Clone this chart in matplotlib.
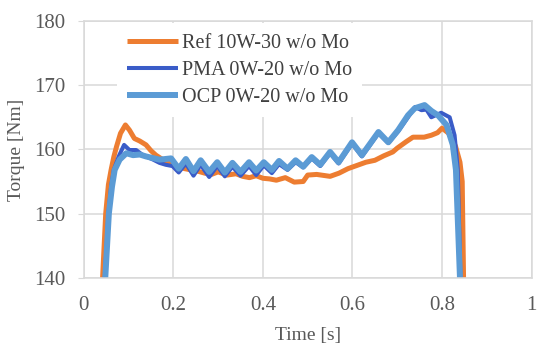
import matplotlib
matplotlib.use("Agg")
import matplotlib.pyplot as plt

# ---- data ----
t_ref = [0.042, 0.049, 0.055, 0.061, 0.067, 0.073, 0.082, 0.093, 0.102, 0.113, 0.125, 0.139, 0.150,
         0.161, 0.172, 0.184, 0.198, 0.213, 0.225, 0.240, 0.255, 0.270, 0.285, 0.300, 0.320,
         0.340, 0.355, 0.370, 0.385, 0.400, 0.415, 0.430, 0.450, 0.470, 0.490, 0.500, 0.520,
         0.550, 0.570, 0.590, 0.610, 0.630, 0.650, 0.670, 0.690, 0.700, 0.720, 0.735, 0.760,
         0.776, 0.790, 0.800, 0.815, 0.830, 0.840, 0.845, 0.848]
y_ref = [140.0, 150.0, 154.5, 156.8, 158.8, 160.4, 162.5, 163.8, 163.0, 161.7, 161.3, 160.7, 159.8,
         159.1, 158.6, 158.1, 157.6, 157.3, 157.0, 156.8, 156.6, 156.3, 156.1, 156.5, 156.0,
         156.2, 155.8, 155.6, 155.9, 155.5, 155.4, 155.2, 155.6, 154.9, 155.0, 156.0, 156.1,
         155.8, 156.3, 157.0, 157.5, 158.0, 158.3, 159.0, 159.6, 160.2, 161.2, 161.9, 161.9,
         162.2, 162.6, 163.3, 162.5, 160.5, 158.0, 155.0, 140.0]

t_pma = [0.047, 0.055, 0.061, 0.067, 0.078, 0.090, 0.102, 0.117, 0.130, 0.139, 0.155, 0.169,
         0.183, 0.198, 0.212, 0.228, 0.245, 0.261, 0.280, 0.298, 0.315, 0.332, 0.350, 0.369,
         0.385, 0.402, 0.420, 0.436, 0.455, 0.473, 0.490, 0.509, 0.528, 0.550, 0.569, 0.599,
         0.621, 0.658, 0.680, 0.702, 0.724, 0.740, 0.754, 0.765, 0.776, 0.798, 0.817, 0.828,
         0.835, 0.841]
y_pma = [140.0, 150.0, 154.2, 156.8, 158.9, 160.7, 159.9, 159.9, 159.2, 158.9, 158.4, 157.9,
         157.6, 157.4, 156.4, 157.8, 155.9, 157.6, 155.7, 157.4, 155.8, 157.3, 155.9, 157.4,
         156.0, 157.5, 156.3, 157.7, 156.8, 158.0, 157.2, 158.6, 157.4, 159.4, 157.8, 160.9,
         158.9, 162.5, 161.0, 162.8, 165.0, 166.6, 166.1, 166.2, 165.0, 165.7, 165.0, 162.2,
         157.0, 140.0]

t_ocp = [0.048, 0.056, 0.063, 0.069, 0.080, 0.095, 0.110, 0.125, 0.139, 0.169, 0.195, 0.212,
         0.228, 0.245, 0.261, 0.280, 0.298, 0.315, 0.332, 0.350, 0.369, 0.385, 0.402, 0.420,
         0.436, 0.455, 0.473, 0.490, 0.509, 0.528, 0.550, 0.569, 0.599, 0.621, 0.658, 0.680,
         0.702, 0.724, 0.739, 0.761, 0.776, 0.791, 0.810, 0.824, 0.831, 0.840]
y_ocp = [140.0, 150.0, 154.2, 156.8, 158.4, 159.4, 159.1, 159.2, 158.9, 158.4, 158.6, 157.0,
         158.5, 156.6, 158.3, 156.5, 158.0, 156.4, 157.9, 156.5, 158.0, 156.7, 158.0, 156.8,
         158.2, 157.0, 158.3, 157.3, 158.8, 157.6, 159.6, 158.0, 161.1, 159.1, 162.7, 161.1,
         163.0, 165.3, 166.4, 166.9, 166.0, 165.3, 163.8, 160.7, 156.8, 140.0]

labels = ["Ref 10W-30 w/o Mo", "PMA 0W-20 w/o Mo", "OCP 0W-20 w/o Mo"]
colors = ["#ED7D31", "#3A5CC8", "#5B9BD5"]
widths = [3.6, 2.9, 4.3]

x_ticks = [0, 0.2, 0.4, 0.6, 0.8, 1.0]
x_ticklabels = ["0", "0.2", "0.4", "0.6", "0.8", "1"]
y_ticks = [140, 150, 160, 170, 180]

# ---- plot ----
plt.rcParams['font.family'] = ['Liberation Serif', 'DejaVu Serif']
fig = plt.figure(figsize=(5.37, 3.43), dpi=100)
ax = fig.add_axes([0.156, 0.19, 0.834, 0.749])

series = [(t_ref, y_ref), (t_pma, y_pma), (t_ocp, y_ocp)]
for (tx, ty), lab, c, w in zip(series, labels, colors, widths):
    ax.plot(tx, ty, color=c, lw=w, label=lab, solid_joinstyle='round', solid_capstyle='butt')

ax.set_xlim(0, 1)
ax.set_ylim(140, 180)
ax.set_xticks(x_ticks)
ax.set_xticklabels(x_ticklabels)
ax.set_yticks(y_ticks)
ax.grid(True, color="#D9D9D9", lw=1.1)
ax.set_axisbelow(True)
for s in ax.spines.values():
    s.set_color("#D9D9D9")
    s.set_linewidth(1.1)
ax.tick_params(axis='x', length=0, pad=13, labelsize=15, labelcolor="#595959")
ax.tick_params(axis='y', length=4, color="#D9D9D9", pad=9, labelsize=15, labelcolor="#595959")
ax.set_xlabel("Time [s]", fontsize=14, color="#595959", labelpad=9)
ax.set_ylabel("Torque [Nm]", fontsize=14, color="#595959", labelpad=7)

leg = ax.legend(loc='upper left', bbox_to_anchor=(0.075, 0.99), fontsize=14.5,
                handlelength=2.5, handletextpad=0.2, labelspacing=0.4, borderpad=0.5,
                frameon=True, fancybox=False, borderaxespad=0)
leg.get_frame().set_facecolor('white')
leg.get_frame().set_edgecolor('none')
leg.get_frame().set_alpha(1)
for txt in leg.get_texts():
    txt.set_color("#404040")

fig.savefig("out.png", dpi=100)
